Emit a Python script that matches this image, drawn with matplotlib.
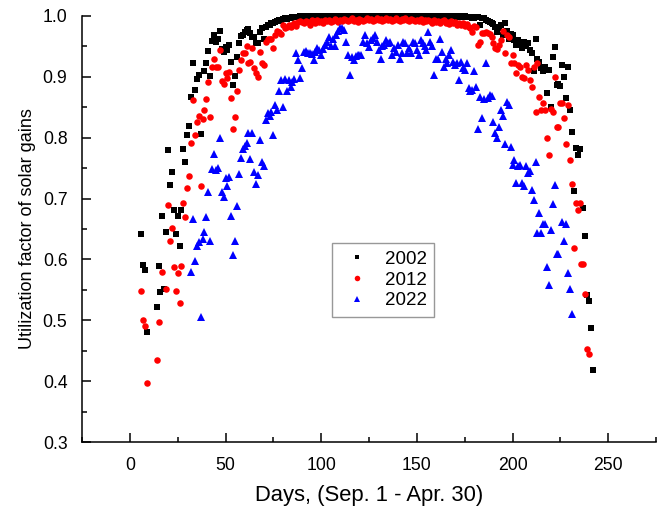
#Utilization factor of solar gains, Sep. 1 - Apr. 30

#Importing the libraries
import matplotlib
matplotlib.use('Agg')
import matplotlib.pyplot as plt
from matplotlib.ticker import MultipleLocator

#Data (day index, utilization factor)
#2002 - black squares
days_2002 = [6, 7, 8, 9] + list(range(14, 38)) + list(range(39, 236)) + list(range(237, 243))
uf_2002 = [0.641, 0.591, 0.582, 0.481,
           # days 14-37
           0.522, 0.590, 0.546, 0.672, 0.551, 0.645, 0.779, 0.723, 0.744, 0.681,
           0.642, 0.671, 0.622, 0.682, 0.781, 0.760, 0.804, 0.820, 0.867, 0.922,
           0.878, 0.896, 0.903, 0.806,
           # days 39-83
           0.909, 0.923, 0.943, 0.901, 0.959, 0.968, 0.957, 0.962, 0.975, 0.946,
           0.941, 0.949, 0.944, 0.953, 0.924, 0.886, 0.901, 0.932, 0.956, 0.967,
           0.969, 0.974, 0.977, 0.978, 0.972, 0.966, 0.966, 0.955, 0.955, 0.974,
           0.981, 0.963, 0.982, 0.985, 0.985, 0.988, 0.988, 0.990, 0.991, 0.993,
           0.991, 0.995, 0.996, 0.995, 0.997,
           # days 84-179
           0.997, 0.998, 0.999, 0.998, 0.999, 1.0, 0.999, 1.0, 1.0, 0.999, 1.0, 1.0,
           1.0, 0.999, 1.0, 1.0, 1.0, 0.999, 1.0, 1.0, 1.0, 1.0, 0.999, 1.0,
           1.0, 1.0, 1.0, 1.0, 1.0, 0.999, 1.0, 1.0, 1.0, 1.0, 1.0, 1.0,
           1.0, 1.0, 1.0, 1.0, 0.999, 1.0, 1.0, 1.0, 1.0, 1.0, 1.0, 1.0,
           1.0, 1.0, 1.0, 1.0, 1.0, 1.0, 0.999, 1.0, 1.0, 1.0, 1.0, 1.0,
           1.0, 1.0, 1.0, 1.0, 1.0, 1.0, 1.0, 0.999, 1.0, 1.0, 1.0, 1.0,
           1.0, 1.0, 1.0, 1.0, 0.999, 1.0, 1.0, 1.0, 1.0, 1.0, 1.0, 0.999,
           1.0, 1.0, 1.0, 0.999, 1.0, 1.0, 0.999, 1.0, 0.998, 0.999, 0.998, 0.997,
           # days 180-235
           0.996, 0.998, 0.999, 0.985, 0.996, 0.996, 0.994, 0.991, 0.990, 0.988,
           0.987, 0.982, 0.974, 0.980, 0.985, 0.969, 0.988, 0.975, 0.963, 0.970,
           0.969, 0.960, 0.952, 0.961, 0.955, 0.947, 0.958, 0.950, 0.955, 0.944,
           0.939, 0.909, 0.963, 0.930, 0.925, 0.914, 0.909, 0.917, 0.873, 0.911,
           0.850, 0.933, 0.949, 0.887, 0.889, 0.885, 0.919, 0.900, 0.866, 0.917,
           0.846, 0.810, 0.712, 0.783, 0.772, 0.781,
           # days 237-242
           0.685, 0.638, 0.542, 0.531, 0.487, 0.418]

#2012 - red circles
days_2012 = [6, 7, 8, 9, 14, 15, 17] + list(range(19, 241))
uf_2012 = [0.548, 0.500, 0.490, 0.397, 0.435, 0.498, 0.579,
           # days 19-89
           0.551, 0.689, 0.630, 0.652, 0.588, 0.548, 0.577, 0.528, 0.589, 0.692,
           0.670, 0.718, 0.737, 0.791, 0.862, 0.805, 0.826, 0.836, 0.721, 0.831,
           0.845, 0.864, 0.892, 0.834, 0.916, 0.930, 0.916, 0.916, 0.944, 0.893,
           0.888, 0.906, 0.898, 0.908, 0.865, 0.815, 0.834, 0.876, 0.911, 0.928,
           0.939, 0.939, 0.950, 0.923, 0.925, 0.947, 0.914, 0.906, 0.900, 0.941,
           0.922, 0.919, 0.958, 0.962, 0.962, 0.963, 0.947, 0.969, 0.975, 0.974,
           0.971, 0.985, 0.980, 0.982, 0.985, 0.982, 0.986, 0.988, 0.983, 0.990,
           0.991,
           # days 90-177
           0.990, 0.988, 0.992, 0.990, 0.986, 0.993, 0.991, 0.989, 0.993, 0.990, 0.992, 0.988,
           0.993, 0.991, 0.994, 0.990, 0.992, 0.995, 0.993, 0.990, 0.994, 0.992, 0.995, 0.993,
           0.991, 0.994, 0.996, 0.992, 0.994, 0.990, 0.995, 0.993, 0.991, 0.994, 0.996, 0.993,
           0.995, 0.992, 0.994, 0.996, 0.993, 0.995, 0.991, 0.994, 0.996, 0.993, 0.995, 0.992,
           0.994, 0.996, 0.993, 0.991, 0.995, 0.993, 0.996, 0.994, 0.992, 0.995, 0.993, 0.991,
           0.994, 0.992, 0.995, 0.990, 0.993, 0.991, 0.994, 0.992, 0.989, 0.993, 0.990, 0.992,
           0.988, 0.991, 0.993, 0.989, 0.990, 0.987, 0.991, 0.988, 0.990, 0.986, 0.989, 0.985,
           0.988, 0.984, 0.987, 0.982,
           # days 178-240
           0.980, 0.974, 0.983, 0.982, 0.952, 0.958, 0.972, 0.972, 0.973, 0.972,
           0.970, 0.965, 0.955, 0.948, 0.946, 0.952, 0.961, 0.975, 0.939, 0.969,
           0.966, 0.922, 0.936, 0.922, 0.906, 0.919, 0.917, 0.900, 0.898, 0.919,
           0.911, 0.895, 0.884, 0.917, 0.843, 0.922, 0.867, 0.846, 0.857, 0.845,
           0.799, 0.771, 0.848, 0.843, 0.900, 0.818, 0.818, 0.857, 0.857, 0.833,
           0.790, 0.854, 0.763, 0.724, 0.619, 0.693, 0.681, 0.693, 0.593, 0.593,
           0.544, 0.453, 0.444]

#2022 - blue triangles
days_2022 = list(range(32, 225)) + [226, 227, 228, 229, 230, 231]
uf_2022 = [0.580, 0.667, 0.597, 0.622, 0.628, 0.506, 0.633, 0.645, 0.670, 0.710,
           0.630, 0.749, 0.773, 0.747, 0.750, 0.800, 0.710, 0.703, 0.734, 0.720,
           0.736, 0.671, 0.607, 0.631, 0.687, 0.741, 0.767, 0.781, 0.786, 0.792,
           0.808, 0.765, 0.807, 0.744, 0.724, 0.738, 0.797, 0.760, 0.754, 0.829,
           0.840, 0.835, 0.842, 0.804, 0.854, 0.846, 0.876, 0.895, 0.851, 0.896,
           0.876, 0.895, 0.884, 0.892, 0.897, 0.939, 0.928, 0.898, 0.914, 0.941,
           0.943, 0.939, 0.939, 0.937, 0.928, 0.941, 0.947, 0.944, 0.936, 0.946,
           0.952, 0.958, 0.966, 0.950, 0.963, 0.950, 0.969, 0.976, 0.980, 0.980,
           0.977, 0.958, 0.936, 0.903, 0.933, 0.928, 0.934, 0.936, 0.936, 0.936,
           0.958, 0.969, 0.955, 0.949, 0.961, 0.964, 0.969, 0.958, 0.944, 0.930,
           0.950, 0.953, 0.961, 0.955, 0.958, 0.936, 0.947, 0.941, 0.952, 0.930,
           0.939, 0.958, 0.955, 0.939, 0.948, 0.939, 0.958, 0.955, 0.944, 0.936,
           0.961, 0.955, 0.950, 0.944, 0.974, 0.958, 0.950, 0.903, 0.930, 0.930,
           0.963, 0.941, 0.917, 0.930, 0.922, 0.936, 0.944, 0.925, 0.919, 0.922,
           0.895, 0.925, 0.914, 0.911, 0.922, 0.881, 0.877, 0.878, 0.909, 0.884,
           0.815, 0.867, 0.832, 0.864, 0.922, 0.865, 0.870, 0.868, 0.825, 0.807,
           0.799, 0.818, 0.846, 0.835, 0.789, 0.859, 0.854, 0.784, 0.755, 0.763,
           0.726, 0.753, 0.755, 0.726, 0.721, 0.753, 0.742, 0.746, 0.714, 0.698,
           0.760, 0.643, 0.676, 0.643, 0.659, 0.659, 0.588, 0.558, 0.648, 0.691,
           0.722, 0.609, 0.609,
           # days 226-231
           0.661, 0.630, 0.658, 0.578, 0.551, 0.510]

#Visualising the results
plt.rcParams['font.family'] = ['Liberation Sans', 'DejaVu Sans']

fig = plt.figure(figsize=(6.66, 5.11), dpi=100)
ax = fig.add_axes([0.1231, 0.135, 0.862, 0.8337])

ax.plot(days_2002, uf_2002, 's', color='black', markersize=4.2, markeredgewidth=0,
        label='2002', clip_on=False)
ax.plot(days_2012, uf_2012, 'o', color='red', markersize=4.7, markeredgewidth=0,
        label='2012', clip_on=False)
ax.plot(days_2022, uf_2022, '^', color='blue', markersize=5.6, markeredgewidth=0,
        label='2022', clip_on=False)

ax.set_xlim(-25, 275)
ax.set_ylim(0.3, 1.0)
ax.xaxis.set_major_locator(MultipleLocator(50))
ax.xaxis.set_minor_locator(MultipleLocator(25))
ax.yaxis.set_major_locator(MultipleLocator(0.1))
ax.yaxis.set_minor_locator(MultipleLocator(0.05))

ax.spines['top'].set_visible(False)
ax.spines['right'].set_visible(False)
for side in ['left', 'bottom']:
    ax.spines[side].set_linewidth(1.1)

ax.tick_params(which='both', direction='in', width=1.1)
ax.tick_params(which='major', length=6.5, labelsize=12.7, pad=10.5)
ax.tick_params(which='minor', length=3.5)

ax.set_xlabel('Days, (Sep. 1 - Apr. 30)', fontsize=15.8, labelpad=8)
ax.set_ylabel('Utilization factor of solar gains', fontsize=13, labelpad=5)

leg = ax.legend(loc='upper left', bbox_to_anchor=(0.436, 0.467), fontsize=13.5,
                frameon=True, fancybox=False, edgecolor='#7f7f7f',
                handlelength=1.8, handletextpad=0.6, borderpad=0.4,
                labelspacing=0.2, borderaxespad=0, markerscale=0.85)
leg.get_frame().set_linewidth(1.0)

fig.savefig('out.png', dpi=100)
